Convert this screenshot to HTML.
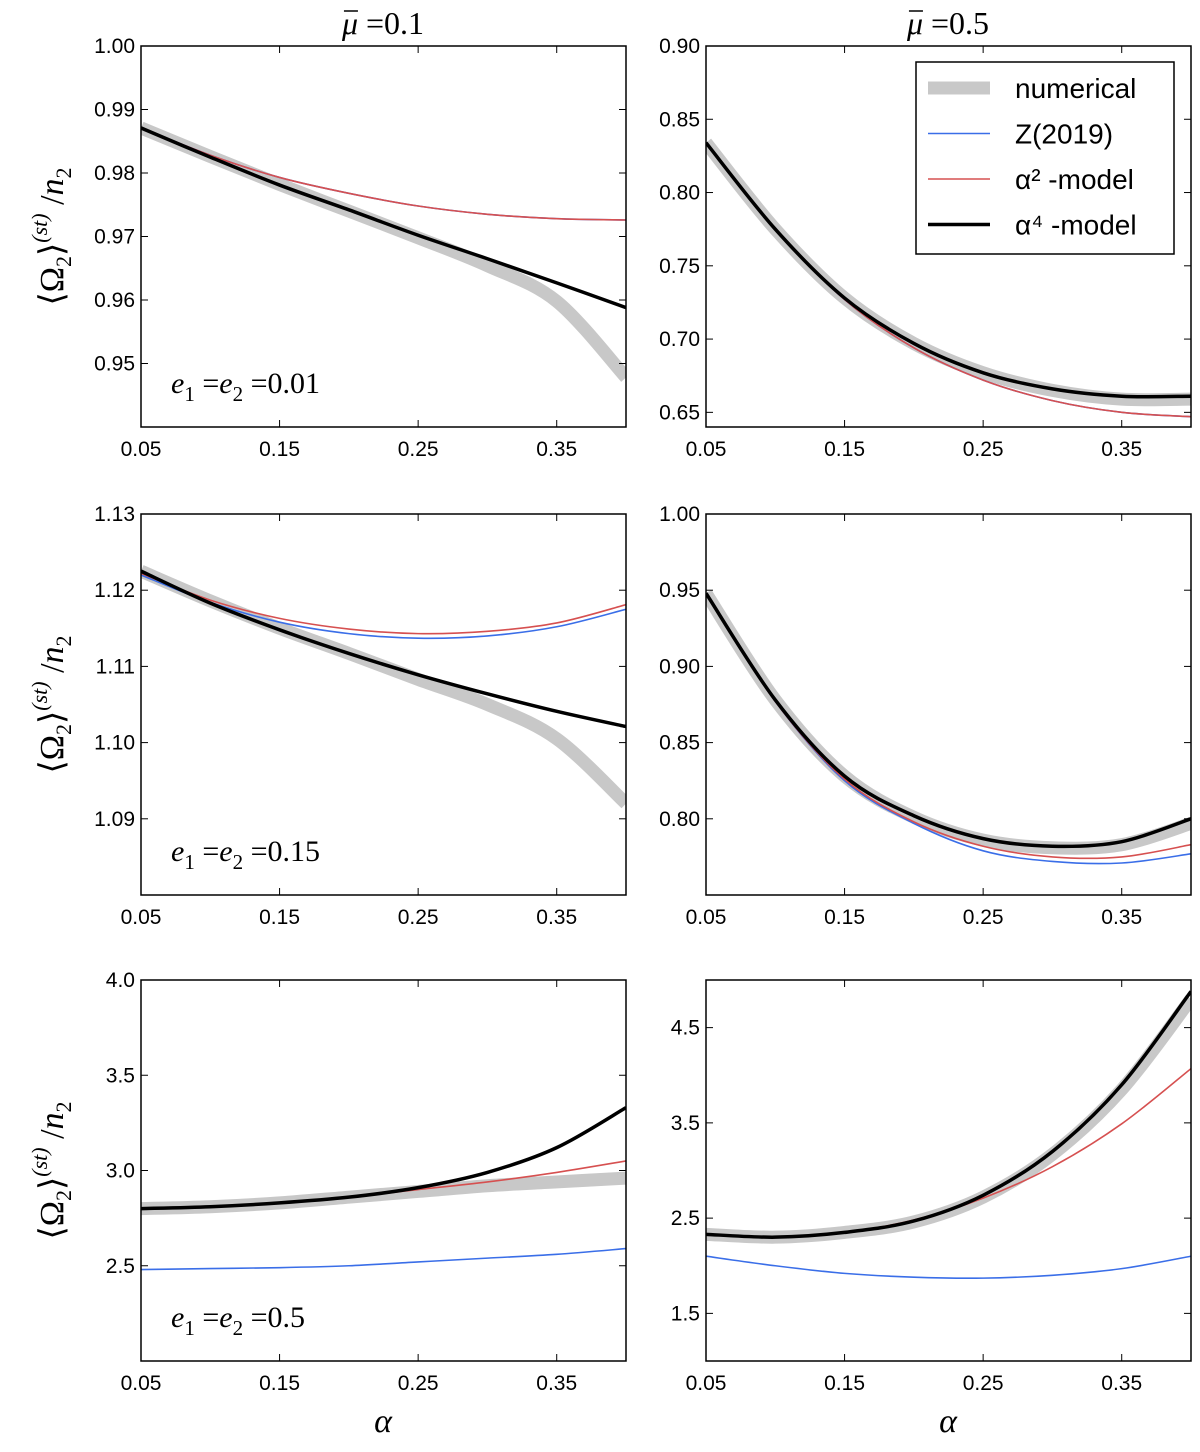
<!DOCTYPE html>
<html><head><meta charset="utf-8"><style>
body{margin:0;background:#fff;}
svg text{font-family:"Liberation Sans",sans-serif;}
.tk{font-size:21px;fill:#000;}
.ser{font-family:"Liberation Serif",serif;}
</style></head><body>
<svg id="fig" width="1200" height="1447" xmlns="http://www.w3.org/2000/svg"></svg>
<script>
const alphas=[0.05,0.1,0.15,0.2,0.25,0.3,0.35,0.4];
const xTicks=[0.05,0.15,0.25,0.35];
const xTickLabels=["0.05","0.15","0.25","0.35"];
// panel 1: mu=0.1, e=0.01
const p1Num=[0.9871,0.9826,0.9782,0.9740,0.9698,0.9654,0.9598,0.9478];
const p1A4=[0.9871,0.9825,0.9781,0.9742,0.9702,0.9665,0.9627,0.9588];
const p1A2=[0.9871,0.9828,0.9793,0.9768,0.9748,0.9735,0.9728,0.9726];
const p1Z=[0.9871,0.9828,0.9793,0.9768,0.9748,0.9735,0.9728,0.9726];
const p1Ticks=[0.95,0.96,0.97,0.98,0.99,1.00];
const p1TickLabels=["0.95","0.96","0.97","0.98","0.99","1.00"];
// panel 2: mu=0.5, e=0.01
const p2Num=[0.834,0.775,0.728,0.697,0.677,0.665,0.659,0.659];
const p2A4=[0.834,0.775,0.728,0.697,0.677,0.666,0.661,0.661];
const p2A2=[0.834,0.775,0.727,0.694,0.672,0.658,0.650,0.647];
const p2Z=[0.834,0.775,0.727,0.694,0.672,0.658,0.650,0.647];
const p2Ticks=[0.65,0.70,0.75,0.80,0.85,0.90];
const p2TickLabels=["0.65","0.70","0.75","0.80","0.85","0.90"];
// panel 3: mu=0.1, e=0.15
const p3Num=[1.1225,1.1186,1.1150,1.1117,1.1083,1.1050,1.1005,1.0920];
const p3A4=[1.1225,1.1183,1.1148,1.1117,1.1089,1.1064,1.1041,1.1021];
const p3A2=[1.1222,1.1187,1.1163,1.1149,1.1143,1.1146,1.1157,1.1181];
const p3Z=[1.1220,1.1184,1.1158,1.1143,1.1137,1.1140,1.1152,1.1175];
const p3Ticks=[1.09,1.10,1.11,1.12,1.13];
const p3TickLabels=["1.09","1.10","1.11","1.12","1.13"];
// panel 4: mu=0.5, e=0.15
const p4Num=[0.948,0.878,0.828,0.801,0.786,0.781,0.783,0.797];
const p4A4=[0.948,0.878,0.828,0.802,0.787,0.782,0.785,0.800];
const p4A2=[0.948,0.877,0.826,0.798,0.782,0.775,0.775,0.783];
const p4Z=[0.948,0.877,0.825,0.797,0.779,0.772,0.771,0.777];
const p4Ticks=[0.80,0.85,0.90,0.95,1.00];
const p4TickLabels=["0.80","0.85","0.90","0.95","1.00"];
// panel 5: mu=0.1, e=0.5
const p5Num=[2.80,2.81,2.83,2.86,2.89,2.92,2.94,2.96];
const p5A4=[2.80,2.81,2.83,2.86,2.91,2.99,3.12,3.33];
const p5A2=[2.80,2.81,2.83,2.86,2.90,2.94,2.99,3.05];
const p5Z=[2.48,2.485,2.49,2.50,2.52,2.54,2.56,2.59];
const p5Ticks=[2.5,3.0,3.5,4.0];
const p5TickLabels=["2.5","3.0","3.5","4.0"];
// panel 6: mu=0.5, e=0.5
const p6Num=[2.33,2.30,2.35,2.46,2.72,3.17,3.85,4.80];
const p6A4=[2.33,2.30,2.35,2.47,2.74,3.20,3.90,4.88];
const p6A2=[2.33,2.30,2.35,2.48,2.71,3.04,3.49,4.07];
const p6Z=[2.10,2.00,1.92,1.88,1.87,1.90,1.97,2.10];
const p6Ticks=[1.5,2.5,3.5,4.5];
const p6TickLabels=["1.5","2.5","3.5","4.5"];

const NS="http://www.w3.org/2000/svg";
const svg=document.getElementById('fig');
function mk(tag,attrs,parent){const e=document.createElementNS(NS,tag);for(const k in attrs)e.setAttribute(k,attrs[k]);(parent||svg).appendChild(e);return e;}
const cols=[141,706], W=485, rows=[46,514,980], H=381;
const panels=[
 {c:0,r:0,y0:0.94,y1:1.00,num:p1Num,a4:p1A4,a2:p1A2,z:p1Z,t:p1Ticks,tl:p1TickLabels,e:"0.01"},
 {c:1,r:0,y0:0.64,y1:0.90,num:p2Num,a4:p2A4,a2:p2A2,z:p2Z,t:p2Ticks,tl:p2TickLabels},
 {c:0,r:1,y0:1.08,y1:1.13,num:p3Num,a4:p3A4,a2:p3A2,z:p3Z,t:p3Ticks,tl:p3TickLabels,e:"0.15"},
 {c:1,r:1,y0:0.75,y1:1.00,num:p4Num,a4:p4A4,a2:p4A2,z:p4Z,t:p4Ticks,tl:p4TickLabels},
 {c:0,r:2,y0:2.0,y1:4.0,num:p5Num,a4:p5A4,a2:p5A2,z:p5Z,t:p5Ticks,tl:p5TickLabels,e:"0.5"},
 {c:1,r:2,y0:1.0,y1:5.0,num:p6Num,a4:p6A4,a2:p6A2,z:p6Z,t:p6Ticks,tl:p6TickLabels},
];
function pathFor(xs,ys){
 const p=xs.map((x,i)=>[x,ys[i]]);let d=`M${p[0][0]},${p[0][1]}`;
 for(let i=0;i<p.length-1;i++){const p0=p[Math.max(0,i-1)],p1=p[i],p2=p[i+1],p3=p[Math.min(p.length-1,i+2)];
  const c1=[p1[0]+(p2[0]-p0[0])/6,p1[1]+(p2[1]-p0[1])/6],c2=[p2[0]-(p3[0]-p1[0])/6,p2[1]-(p3[1]-p1[1])/6];
  d+=` C${c1[0]},${c1[1]} ${c2[0]},${c2[1]} ${p2[0]},${p2[1]}`;}
 return d;}
panels.forEach((P,idx)=>{
 const L=cols[P.c],T=rows[P.r];
 const g=mk('g',{});
 
 
 const cid='clip'+idx;
 const cp=mk('clipPath',{id:cid},g);mk('rect',{x:L,y:T,width:W,height:H},cp);
 const sx=a=>L+(a-0.05)/(0.4-0.05)*W;
 const sy=v=>T+H-(v-P.y0)/(P.y1-P.y0)*H;
 const xs=alphas.map(sx);
 const cg=mk('g',{'clip-path':`url(#${cid})`},g);
 const series=[[P.num,'#c8c8c8',13,'numerical-band'],[P.z,'#3a6ee8',1.6,'z2019-line'],[P.a2,'#d65050',1.6,'alpha2-line'],[P.a4,'#000',3.5,'alpha4-line']];
 series.forEach(s=>{const pa=mk('path',{d:pathFor(xs,s[0].map(sy)),fill:'none',stroke:s[1],'stroke-width':s[2]},cg);
  
  });
 const fr=mk('rect',{x:L,y:T,width:W,height:H,fill:'none',stroke:'#000','stroke-width':1.5},g);
 
 
 xTicks.forEach((t,i)=>{const x=sx(t);mk('line',{x1:x,x2:x,y1:T+H,y2:T+H-7,stroke:'#000'},g);mk('line',{x1:x,x2:x,y1:T,y2:T+7,stroke:'#000'},g);
  const tx=mk('text',{x:x,y:T+H+29,'text-anchor':'middle',class:'tk'},g);tx.textContent=xTickLabels[i];
  
  });
 P.t.forEach((t,i)=>{const y=sy(t);mk('line',{x1:L,x2:L+7,y1:y,y2:y,stroke:'#000'},g);mk('line',{x1:L+W,x2:L+W-7,y1:y,y2:y,stroke:'#000'},g);
  const tx=mk('text',{x:L-6,y:y+7,'text-anchor':'end',class:'tk'},g);tx.textContent=P.tl[i];
  
  });
 if(P.e){const a=mk('text',{x:L+30,y:T+H-34,class:'ser','font-size':30,'font-style':'italic'},g);
  
  
  a.innerHTML=`e<tspan font-size="21" dy="8" font-style="normal">1</tspan><tspan dy="-8" font-style="normal"> =</tspan>e<tspan font-size="21" dy="8" font-style="normal">2</tspan><tspan dy="-8" font-style="normal"> =${P.e}</tspan>`;
  const yl=mk('text',{transform:`translate(${L-78},${T+H/2}) rotate(-90)`,'text-anchor':'middle',class:'ser','font-size':34},g);
  
  
  yl.innerHTML=`⟨Ω<tspan font-size="22" dy="8">2</tspan><tspan dy="-8">⟩</tspan><tspan font-size="22" dy="-16" font-style="italic">(st)</tspan><tspan dy="16"> /</tspan><tspan font-style="italic">n</tspan><tspan font-size="22" dy="8">2</tspan>`;}
});
[[383,"0.1"],[948,"0.5"]].forEach(([x,m])=>{const t=mk('text',{x:x,y:34,'text-anchor':'middle',class:'ser','font-size':32});
 
 
 t.innerHTML=`<tspan font-style="italic">μ</tspan> =${m}`;
 const bb=t.getBBox();
 mk('line',{x1:bb.x+3,x2:bb.x+17,y1:bb.y+6,y2:bb.y+6,stroke:'#000','stroke-width':1.5});});
[383,948].forEach(x=>{const t=mk('text',{x:x,y:1432,'text-anchor':'middle',class:'ser','font-size':34,'font-style':'italic'});t.textContent='α';
 
 });
// legend
const lg=mk('g',{});


mk('rect',{x:916,y:62,width:258,height:192,fill:'#fff',stroke:'#000','stroke-width':1.5},lg);
const le=[['#c8c8c8',13,'numerical'],['#3a6ee8',1.6,'Z(2019)'],['#d65050',1.6,'α² -model'],['#000',3.5,'α⁴ -model']];
le.forEach((e,i)=>{const y=88+i*45.5;mk('line',{x1:928,x2:990,y1:y,y2:y,stroke:e[0],'stroke-width':e[1]},lg);
 const t=mk('text',{x:1015,y:y+10,'font-size':28},lg);t.textContent=e[2];
 
 });
</script></body></html>
